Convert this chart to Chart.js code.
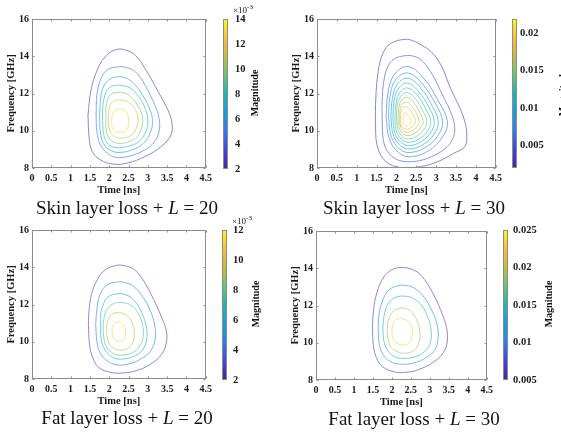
<!DOCTYPE html>
<html>
<head>
<meta charset="utf-8">
<script src="https://cdn.jsdelivr.net/npm/chart.js@4.4.1/dist/chart.umd.min.js"></script>
<style>
  body { margin:0; background:#fff; }
  #fig { position:relative; width:561px; height:432px; overflow:hidden; font-family:"Liberation Serif","Times New Roman",serif; color:#111; }
  #fig canvas { position:absolute; }
  .cap { position:absolute; font-size:19px; white-space:nowrap; transform:translate(-50%,-50%); }
  .mag { position:absolute; font-size:10px; font-weight:bold; white-space:nowrap; transform:translate(-50%,-50%) rotate(-90deg); }
  .exp { position:absolute; font-size:9px; white-space:nowrap; }
  .exp sup { font-size:7px; }
</style>
</head>
<body>
<div id="fig">
  <canvas id="c1" width="216" height="198" style="left:0;top:0"></canvas>
  <canvas id="b1" width="35" height="198" style="left:223px;top:0"></canvas>
  <canvas id="c2" width="221" height="198" style="left:285px;top:0"></canvas>
  <canvas id="b2" width="50" height="198" style="left:512px;top:0"></canvas>
  <canvas id="c3" width="216" height="198" style="left:0;top:211px"></canvas>
  <canvas id="b3" width="35" height="198" style="left:222px;top:211px"></canvas>
  <canvas id="c4" width="213" height="198" style="left:284px;top:212px"></canvas>
  <canvas id="b4" width="50" height="198" style="left:503px;top:211px"></canvas>

  <div class="exp" style="left:233px;top:3px">&times;10<sup>-3</sup></div>
  <div class="exp" style="left:232px;top:214px">&times;10<sup>-3</sup></div>
  <div class="mag" style="left:254px;top:93px">Magnitude</div>
  <div class="mag" style="left:562px;top:93px">Magnitude</div>
  <div class="mag" style="left:255px;top:304px">Magnitude</div>
  <div class="mag" style="left:548px;top:304px">Magnitude</div>

  <div class="cap" style="left:127px;top:208px">Skin layer loss + <i>L</i> = 20</div>
  <div class="cap" style="left:414px;top:208px">Skin layer loss + <i>L</i> = 30</div>
  <div class="cap" style="left:127px;top:418px">Fat layer loss + <i>L</i> = 20</div>
  <div class="cap" style="left:414px;top:419px">Fat layer loss + <i>L</i> = 30</div>
</div>

<script>
// axis ticks
const timeTicks = [0, 0.5, 1, 1.5, 2, 2.5, 3, 3.5, 4, 4.5];
const freqTicks = [8, 10, 12, 14, 16];

// contour rings, points are [time ns, frequency GHz]
const skin20Rings = [
  [[1.45,10.84],[1.48,9.6],[1.56,8.89],[1.77,8.44],[2.1,8.21],[2.48,8.27],[2.93,8.62],[3.35,9.16],[3.6,9.78],[3.62,10.49],[3.52,11.11],[3.27,12.09],[2.93,13.33],[2.68,14.04],[2.43,14.33],[2.18,14.36],[1.89,13.96],[1.67,13.16],[1.52,12.09]],
  [[1.66,10.84],[1.68,9.96],[1.77,9.24],[1.98,8.75],[2.18,8.57],[2.48,8.62],[2.85,8.89],[3.14,9.33],[3.29,9.96],[3.29,10.67],[3.18,11.38],[2.93,12.44],[2.68,13.16],[2.43,13.4],[2.18,13.42],[1.93,13.24],[1.77,12.71],[1.68,11.91]],
  [[1.75,10.67],[1.78,9.78],[1.89,9.19],[2.1,8.89],[2.31,8.84],[2.6,8.98],[2.89,9.33],[3.06,9.87],[3.12,10.49],[3.06,11.11],[2.89,11.82],[2.64,12.53],[2.43,12.84],[2.18,12.89],[1.98,12.71],[1.83,12.27],[1.77,11.56]],
  [[1.83,10.31],[1.87,9.69],[1.98,9.28],[2.18,9.1],[2.48,9.16],[2.77,9.42],[2.95,9.96],[3.0,10.58],[2.93,11.2],[2.77,11.82],[2.56,12.27],[2.37,12.42],[2.18,12.44],[2.0,12.3],[1.89,11.91],[1.83,11.2]],
  [[1.91,10.67],[1.93,9.96],[2.03,9.51],[2.22,9.33],[2.48,9.39],[2.73,9.69],[2.85,10.22],[2.85,10.84],[2.73,11.38],[2.56,11.82],[2.37,12.04],[2.18,12.05],[2.02,11.91],[1.93,11.47]],
  [[1.98,10.49],[2.02,9.96],[2.14,9.69],[2.31,9.6],[2.56,9.74],[2.7,10.13],[2.75,10.67],[2.68,11.11],[2.54,11.47],[2.37,11.62],[2.18,11.64],[2.06,11.51],[1.99,11.11]],
  [[2.06,10.49],[2.1,10.08],[2.25,9.92],[2.42,9.99],[2.5,10.31],[2.48,10.84],[2.39,11.11],[2.22,11.16],[2.1,10.99]]
];
const skin20Levels = [3, 4.7, 6.3, 8, 9.7, 11.3, 13];   // x10^-3

const skin30Rings = [
  [[1.47,10.31],[1.51,9.24],[1.66,8.52],[1.9,8.13],[2.22,8.02],[2.63,8.08],[3.04,8.34],[3.44,8.79],[3.72,9.15],[3.77,9.86],[3.72,10.49],[3.6,11.21],[3.36,12.28],[3.12,13.53],[2.87,14.25],[2.63,14.6],[2.43,14.82],[2.22,14.91],[1.86,14.69],[1.66,14.16],[1.54,13.17],[1.48,11.74]],
  [[1.64,10.49],[1.67,9.51],[1.78,8.88],[1.98,8.49],[2.27,8.34],[2.59,8.4],[2.95,8.67],[3.28,9.15],[3.44,9.69],[3.46,10.31],[3.36,11.03],[3.16,11.92],[2.91,12.99],[2.67,13.71],[2.47,13.98],[2.22,14.03],[1.94,13.85],[1.78,13.44],[1.68,12.64],[1.64,11.56]],
  [[1.74,10.78],[1.82,9.57],[2.05,8.84],[2.36,8.6],[2.85,8.99],[3.2,9.81],[3.28,10.54],[3.08,11.5],[2.69,12.81],[2.29,13.44],[1.96,13.05],[1.79,12.08]],
  [[1.8,10.75],[1.87,9.68],[2.07,9.04],[2.34,8.83],[2.78,9.17],[3.09,9.9],[3.16,10.54],[3.0,11.39],[2.64,12.54],[2.29,13.1],[1.99,12.76],[1.84,11.9]],
  [[1.86,10.73],[1.92,9.78],[2.1,9.21],[2.34,9.02],[2.72,9.32],[2.99,9.97],[3.05,10.54],[2.91,11.3],[2.6,12.33],[2.29,12.82],[2.03,12.52],[1.9,11.76]],
  [[1.91,10.71],[1.96,9.87],[2.12,9.37],[2.33,9.2],[2.66,9.47],[2.9,10.04],[2.95,10.54],[2.83,11.22],[2.55,12.12],[2.28,12.56],[2.06,12.29],[1.94,11.62]],
  [[1.96,10.69],[2.0,9.96],[2.14,9.53],[2.32,9.38],[2.61,9.61],[2.82,10.11],[2.86,10.55],[2.75,11.13],[2.52,11.92],[2.28,12.3],[2.09,12.07],[1.99,11.48]],
  [[2.0,10.68],[2.04,10.06],[2.15,9.68],[2.3,9.56],[2.55,9.76],[2.72,10.18],[2.76,10.56],[2.67,11.05],[2.47,11.73],[2.27,12.05],[2.11,11.85],[2.02,11.35]],
  [[2.04,10.67],[2.07,10.15],[2.17,9.84],[2.29,9.74],[2.49,9.9],[2.64,10.26],[2.67,10.56],[2.59,10.98],[2.43,11.53],[2.27,11.8],[2.13,11.64],[2.06,11.22]],
  [[2.07,10.65],[2.1,10.25],[2.17,10.0],[2.27,9.92],[2.43,10.05],[2.55,10.33],[2.57,10.57],[2.51,10.9],[2.38,11.34],[2.25,11.55],[2.14,11.42],[2.09,11.09]],
  [[2.1,10.63],[2.12,10.32],[2.18,10.14],[2.25,10.08],[2.37,10.18],[2.46,10.39],[2.48,10.57],[2.43,10.81],[2.34,11.14],[2.24,11.3],[2.15,11.2],[2.11,10.96]],
  [[2.16,10.55],[2.18,10.38],[2.24,10.28],[2.31,10.31],[2.36,10.45],[2.34,10.65],[2.28,10.85],[2.23,11.0],[2.19,10.87],[2.17,10.72]]
];
const skin30Levels = [0.0035,0.005,0.0065,0.008,0.0095,0.011,0.0125,0.014,0.0155,0.017,0.0185,0.02];

const fat20Rings = [
  [[1.46,10.93],[1.49,9.87],[1.57,9.16],[1.73,8.62],[2.03,8.36],[2.32,8.32],[2.69,8.44],[3.07,8.8],[3.36,9.33],[3.48,9.96],[3.48,10.58],[3.36,11.29],[3.15,12.27],[2.9,13.24],[2.65,13.87],[2.4,14.08],[2.19,14.1],[1.9,13.87],[1.69,13.33],[1.54,12.53],[1.48,11.73]],
  [[1.65,10.93],[1.68,10.04],[1.76,9.42],[1.94,8.98],[2.19,8.76],[2.48,8.8],[2.82,9.07],[3.07,9.51],[3.19,10.13],[3.18,10.84],[3.07,11.64],[2.86,12.44],[2.61,13.01],[2.4,13.18],[2.21,13.21],[1.93,13.03],[1.76,12.53],[1.68,11.73]],
  [[1.78,10.93],[1.79,10.13],[1.88,9.6],[2.07,9.19],[2.29,9.07],[2.61,9.19],[2.86,9.55],[2.97,10.13],[2.96,10.84],[2.84,11.56],[2.65,12.21],[2.42,12.53],[2.19,12.57],[1.96,12.39],[1.83,11.91],[1.78,11.47]],
  [[1.84,10.93],[1.86,10.22],[1.94,9.69],[2.11,9.37],[2.32,9.28],[2.61,9.42],[2.79,9.78],[2.88,10.31],[2.86,10.93],[2.76,11.5],[2.57,11.95],[2.38,12.09],[2.19,12.09],[2.01,11.91],[1.9,11.56]],
  [[1.93,10.76],[1.96,10.13],[2.07,9.72],[2.26,9.55],[2.48,9.65],[2.61,9.96],[2.65,10.49],[2.59,11.02],[2.46,11.41],[2.27,11.56],[2.09,11.5],[1.98,11.2]],
  [[2.07,10.54],[2.11,10.19],[2.23,10.04],[2.38,10.13],[2.43,10.49],[2.38,10.88],[2.29,11.06],[2.18,11.04],[2.09,10.84]]
];
const fat20Levels = [3, 4.6, 6.2, 7.8, 9.4, 11];   // x10^-3

const fat30Rings = [
  [[1.49,10.81],[1.51,9.92],[1.59,9.21],[1.76,8.71],[2.06,8.44],[2.36,8.41],[2.69,8.55],[3.08,8.94],[3.36,9.48],[3.46,10.1],[3.44,10.81],[3.33,11.52],[3.12,12.5],[2.86,13.39],[2.61,13.87],[2.23,14.04],[1.93,13.83],[1.72,13.3],[1.58,12.5],[1.51,11.61]],
  [[1.64,10.81],[1.66,10.01],[1.76,9.39],[1.95,9.0],[2.23,8.85],[2.57,8.91],[2.91,9.21],[3.14,9.65],[3.22,10.28],[3.19,10.99],[3.06,11.7],[2.86,12.41],[2.61,12.91],[2.36,13.08],[2.1,13.03],[1.89,12.76],[1.75,12.23],[1.66,11.52]],
  [[1.76,10.81],[1.79,10.1],[1.89,9.6],[2.06,9.26],[2.29,9.16],[2.61,9.24],[2.88,9.56],[3.02,10.06],[3.03,10.72],[2.95,11.34],[2.8,11.96],[2.57,12.37],[2.34,12.5],[2.1,12.44],[1.92,12.14],[1.81,11.61]],
  [[1.87,10.63],[1.91,10.1],[2.0,9.71],[2.19,9.48],[2.37,9.44],[2.59,9.6],[2.71,10.01],[2.74,10.54],[2.68,11.08],[2.54,11.61],[2.36,11.84],[2.17,11.84],[2.0,11.61],[1.9,11.17]],
  [[2.0,10.63],[2.03,10.19],[2.14,9.96],[2.31,9.88],[2.46,10.01],[2.53,10.36],[2.53,10.81],[2.44,11.13],[2.29,11.29],[2.13,11.25],[2.03,11.02]]
];
const fat30Levels = [0.007, 0.011, 0.015, 0.019, 0.023];

// colorbar ranges and ticks
const cb1Range = [2, 14],         cb1Ticks = [2, 4, 6, 8, 10, 12, 14];
const cb2Range = [0.002, 0.0219], cb2Ticks = [0.005, 0.01, 0.015, 0.02];
const cb3Range = [2, 12],         cb3Ticks = [2, 4, 6, 8, 10, 12];
const cb4Range = [0.005, 0.025],  cb4Ticks = [0.005, 0.01, 0.015, 0.02, 0.025];

const PARULA = [
  [0, [62,38,168]], [0.125, [70,66,222]], [0.25, [46,125,240]], [0.375, [22,158,222]],
  [0.5, [30,180,180]], [0.625, [100,198,118]], [0.75, [196,188,62]], [0.875, [252,190,60]], [1, [249,251,20]]
];
function parula(f, white){
  f = Math.min(1, Math.max(0, f));
  let i = 0;
  while (i < PARULA.length-2 && f > PARULA[i+1][0]) i++;
  const [f0,c0] = PARULA[i], [f1,c1] = PARULA[i+1];
  const t = (f-f0)/(f1-f0);
  const c = c0.map((v,k)=> v + (c1[k]-v)*t).map(v => Math.round(v + (255-v)*(white||0)));
  return `rgb(${c[0]},${c[1]},${c[2]})`;
}

const INK = "#1a1a1a";
const tickFont = { family:"Liberation Serif", size:10, weight:"bold" };
const titleFont = { family:"Liberation Serif", size:10.5, weight:"bold" };

// axes box + inward ticks, MATLAB style
const boxPlugin = {
  id: "box",
  afterDraw(chart, args, opts){
    const { ctx, chartArea:a } = chart;
    const L = Math.round(a.left)+0.5, T = Math.round(a.top)+0.5, R = Math.round(a.right)-0.5, B = Math.round(a.bottom)-0.5;
    ctx.save();
    ctx.strokeStyle = opts.color || "#8c8c8c";
    ctx.lineWidth = 1;
    ctx.strokeRect(L, T, R-L, B-T);
    const len = opts.len || 0;
    if (len){
      ctx.beginPath();
      const xs = chart.scales.x, ys = chart.scales.y;
      xs.ticks.forEach(t => {
        const p = Math.round(xs.getPixelForValue(t.value))+0.5;
        ctx.moveTo(p, B); ctx.lineTo(p, B-len);
        ctx.moveTo(p, T); ctx.lineTo(p, T+len);
      });
      ys.ticks.forEach(t => {
        const p = Math.round(ys.getPixelForValue(t.value))+0.5;
        ctx.moveTo(L, p); ctx.lineTo(L+len, p);
        ctx.moveTo(R, p); ctx.lineTo(R-len, p);
      });
      ctx.stroke();
    }
    ctx.restore();
  }
};

function contourChart(id, rings, levels, range){
  return new Chart(document.getElementById(id), {
    type: "scatter",
    data: {
      datasets: rings.map((r,i) => ({
        data: r.concat([r[0]]).map(p => ({ x:p[0], y:p[1] })),
        showLine: true, pointRadius: 0, borderWidth: 1, tension: 0.4, fill: false,
        borderColor: parula((levels[i]-range[0])/(range[1]-range[0]), 0.38),
      })),
    },
    options: {
      responsive: false, animation: false, events: [],
      layout: { padding: { top:19, right:4, left:0, bottom:0 } },
      plugins: { legend:{display:false}, tooltip:{enabled:false}, box:{ len:2 } },
      scales: {
        x: {
          type: "linear", min: 0, max: 4.5,
          afterBuildTicks: s => { s.ticks = timeTicks.map(v => ({ value:v })); },
          afterFit: s => { s.height = 30; },
          grid: { display:false, drawTicks:false }, border: { display:false },
          ticks: { padding:4, color:INK, font:tickFont, maxRotation:0, autoSkip:false, callback: v => String(v) },
          title: { display:true, text:"Time [ns]", color:INK, font:titleFont, padding:{ top:0, bottom:1 } },
        },
        y: {
          type: "linear", min: 8, max: 16,
          afterBuildTicks: s => { s.ticks = freqTicks.map(v => ({ value:v })); },
          afterFit: s => { s.width = 32; },
          grid: { display:false, drawTicks:false }, border: { display:false },
          ticks: { padding:3, color:INK, font:tickFont, callback: v => String(v) },
          title: { display:true, text:"Frequency [GHz]", color:INK, font:titleFont, padding:{ top:5, bottom:0 } },
        },
      },
    },
    plugins: [boxPlugin],
  });
}

function colorbar(id, range, ticks, padTop, padBottom, labelPad, axisW){
  return new Chart(document.getElementById(id), {
    type: "bar",
    data: {
      labels: [""],
      datasets: [{
        data: [range],
        barPercentage: 1, categoryPercentage: 1, borderWidth: 0,
        backgroundColor: c => {
          const a = c.chart.chartArea;
          if (!a) return "#888";
          const g = c.chart.ctx.createLinearGradient(0, a.bottom, 0, a.top);
          PARULA.forEach(([f,col]) => g.addColorStop(f, `rgb(${col.join(",")})`));
          return g;
        },
      }],
    },
    options: {
      responsive: false, animation: false, events: [],
      layout: { padding: { top:padTop, bottom:padBottom, left:0, right:0 } },
      plugins: { legend:{display:false}, tooltip:{enabled:false}, box:{ len:0 } },
      scales: {
        x: { display:false },
        y: {
          position: "right", min: range[0], max: range[1],
          afterBuildTicks: s => { s.ticks = ticks.map(v => ({ value:v })); },
          afterFit: s => { s.width = axisW; },
          grid: { display:false, drawTicks:false }, border: { display:false },
          ticks: { padding:labelPad, color:INK, font:{ family:"Liberation Serif", size:10.5, weight:"bold" }, callback: v => String(+v.toFixed(4)) },
        },
      },
    },
    plugins: [boxPlugin],
  });
}

contourChart("c1", skin20Rings, skin20Levels, cb1Range);
contourChart("c2", skin30Rings, skin30Levels, cb2Range);
contourChart("c3", fat20Rings, fat20Levels, cb3Range);
contourChart("c4", fat30Rings, fat30Levels, cb4Range);

colorbar("b1", cb1Range, cb1Ticks, 19, 29, 7, 30);
colorbar("b2", cb2Range, cb2Ticks, 19, 30, 3, 45);
colorbar("b3", cb3Range, cb3Ticks, 19, 29, 6, 30);
colorbar("b4", cb4Range, cb4Ticks, 19, 29, 5, 45);
</script>
</body>
</html>
